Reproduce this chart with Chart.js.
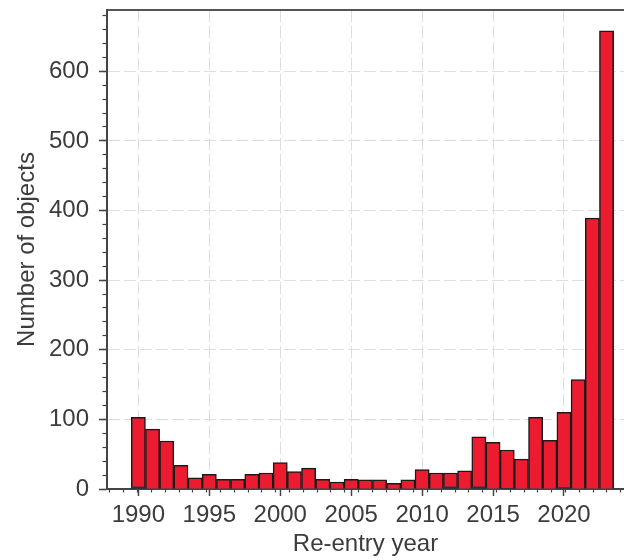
<!DOCTYPE html>
<html>
<head>
<meta charset="utf-8">
<script src="https://cdn.jsdelivr.net/npm/chart.js@4"></script>
<style>
	html, body { margin: 0; padding: 0; background: #fff; }
	#wrap { width: 624px; height: 560px; position: relative; }
</style>
</head>
<body>
<div id="wrap"><canvas id="canvas-element"></canvas></div>
<script>
const kYears = [
	1990, 1991, 1992, 1993, 1994, 1995, 1996, 1997, 1998, 1999,
	2000, 2001, 2002, 2003, 2004, 2005, 2006, 2007, 2008, 2009,
	2010, 2011, 2012, 2013, 2014, 2015, 2016, 2017, 2018, 2019,
	2020, 2021, 2022, 2023
];
const kCounts = [
	103, 86, 69, 34, 16, 21, 14, 14, 21, 23,
	38, 25, 30, 14, 10, 14, 13, 13, 8, 13,
	28, 23, 23, 26, 75, 67, 56, 43, 103, 70,
	110, 157, 389, 658
];
// small dark sub-population at the base of a few bars
const kSubYears = [1990, 2012, 2014, 2016, 2020];
const kSubCounts = [3, 3, 3, 1, 2];

const kXMin = 1987.79;
const kXMax = 2024.23;
const kYMax = 688; // not a multiple of the step, so chart.js keeps 100-steps

const kFont = "'Liberation Sans', Arial, Helvetica, sans-serif";
const kText = "#3c3c3c";
const kAxis = "#444444";
const kGrid = "#dedede";

function toPoints(xs, ys) {
	return xs.map((x, i) => ({x: x, y: ys[i]}));
}

// fix the axis box size and drop the label overhang padding
function fixSize(prop, value) {
	return (s) => {
		s[prop] = value;
		s.paddingTop = 0;
		s.paddingBottom = 0;
		s.paddingLeft = 0;
		s.paddingRight = 0;
	};
}

function renderChart() {
	const context = document.getElementById("canvas-element").getContext("2d");

	return new Chart(context, {
		type: "bar",
		data: {
			datasets: [
				{
					label: "subset",
					data: toPoints(kSubYears, kSubCounts),
					backgroundColor: "#173846",
					borderWidth: 0,
					order: 0
				},
				{
					label: "objects",
					data: toPoints(kYears, kCounts),
					backgroundColor: "#ED1B30",
					borderColor: "#1a1a1a",
					borderWidth: 1.5,
					order: 1
				}
			]
		},
		options: {
			responsive: true,
			maintainAspectRatio: false,
			animation: false,
			grouped: false,
			categoryPercentage: 1,
			barPercentage: 1,
			layout: {padding: {top: 10, left: 0, right: 0, bottom: 0}},
			plugins: {legend: {display: false}, tooltip: {enabled: false}},
			scales: {
				x: {
					type: "linear",
					position: "bottom",
					min: kXMin,
					max: kXMax,
					offset: false,
					grid: {offset: false, color: kGrid, tickColor: kAxis, tickLength: 7, tickWidth: 1.5},
					border: {color: kAxis, width: 2, dash: [12, 4]},
					ticks: {
						stepSize: 5,
						includeBounds: false,
						autoSkip: false,
						maxRotation: 0,
						padding: 5,
						color: kText,
						font: {family: kFont, size: 24},
						callback: (v) => String(v)
					},
					title: {display: true, text: "Re-entry year", color: kText, font: {family: kFont, size: 24}, padding: {top: 0, bottom: 1}},
					afterFit: fixSize("height", 71)
				},
				xMinor: {
					type: "linear",
					position: "bottom",
					weight: -1,
					min: kXMin,
					max: kXMax,
					grid: {drawOnChartArea: false, tickColor: kAxis, tickLength: 3.5, tickWidth: 1.2},
					border: {display: false},
					ticks: {stepSize: 1, maxTicksLimit: 100, includeBounds: false, display: false},
					afterFit: fixSize("height", 0)
				},
				xTop: {
					type: "linear",
					position: "top",
					min: kXMin,
					max: kXMax,
					grid: {drawOnChartArea: false, drawTicks: false},
					border: {color: "#555555", width: 2},
					ticks: {display: false},
					afterFit: fixSize("height", 0)
				},
				y: {
					type: "linear",
					position: "left",
					min: 0,
					max: kYMax,
					grid: {color: kGrid, tickColor: kAxis, tickLength: 8, tickWidth: 1.5},
					border: {color: kAxis, width: 2, dash: [12, 4]},
					ticks: {
						stepSize: 100,
						includeBounds: false,
						padding: 10,
						color: kText,
						font: {family: kFont, size: 24},
						callback: (v) => String(v)
					},
					title: {display: true, text: "Number of objects", color: kText, font: {family: kFont, size: 24}, padding: {top: 13, bottom: 0}},
					afterFit: fixSize("width", 107)
				},
				yMinor: {
					type: "linear",
					position: "left",
					weight: -1,
					min: 0,
					max: kYMax,
					grid: {drawOnChartArea: false, tickColor: kAxis, tickLength: 4.5, tickWidth: 1.2},
					border: {display: false},
					ticks: {stepSize: 20, maxTicksLimit: 100, includeBounds: false, display: false},
					afterFit: fixSize("width", 0)
				}
			}
		}
	});
}

renderChart();
</script>
</body>
</html>
